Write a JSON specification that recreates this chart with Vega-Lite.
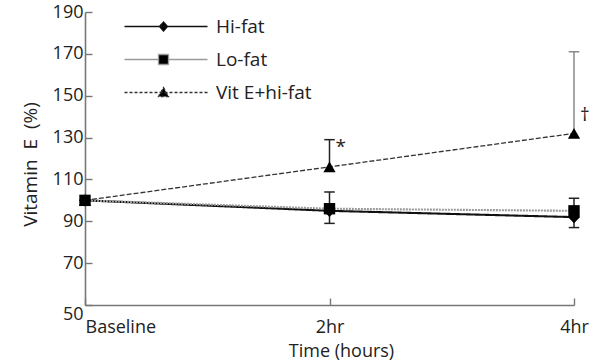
{
  "$schema": "https://vega.github.io/schema/vega-lite/v6.json",
  "width": 489,
  "height": 293,
  "autosize": {"type": "none"},
  "padding": {"left": 85, "top": 12, "right": 27, "bottom": 58},
  "background": "white",
  "config": {
    "view": {"stroke": null},
    "font": "Open Sans",
    "axis": {
      "labelFont": "Open Sans",
      "labelFontSize": 18,
      "labelColor": "#222",
      "titleFont": "Open Sans",
      "titleFontSize": 18,
      "titleFontWeight": "normal",
      "titleColor": "#222",
      "domainColor": "#777",
      "domainWidth": 1.6,
      "tickColor": "#777",
      "tickWidth": 1.4,
      "tickSize": -7,
      "grid": false
    }
  },
  "datasets": {
    "vitE": [
      {"series": "Hi-fat", "time": 0, "value": 100, "err": null},
      {"series": "Hi-fat", "time": 2, "value": 95, "err": 89},
      {"series": "Hi-fat", "time": 4, "value": 92, "err": 87},
      {"series": "Lo-fat", "time": 0, "value": 100, "err": null},
      {"series": "Lo-fat", "time": 2, "value": 96, "err": 104},
      {"series": "Lo-fat", "time": 4, "value": 95, "err": 101},
      {"series": "Vit E+hi-fat", "time": 0, "value": 100, "err": null},
      {"series": "Vit E+hi-fat", "time": 2, "value": 116, "err": 129},
      {"series": "Vit E+hi-fat", "time": 4, "value": 132, "err": 171}
    ],
    "notes": [
      {"time": 2, "value": 129, "note": "*"},
      {"time": 4, "value": 144, "note": "†"}
    ]
  },
  "layer": [
    {
      "data": {"name": "vitE"},
      "mark": {"type": "line"},
      "encoding": {
        "x": {
          "field": "time",
          "type": "quantitative",
          "scale": {"domain": [0, 4], "nice": false, "zero": false},
          "axis": {
            "values": [0, 2, 4],
            "labelExpr": "datum.value == 0 ? 'Baseline' : datum.value + 'hr'",
            "labelAlign": {"expr": "datum.value == 0 ? 'left' : 'center'"},
            "labelPadding": 20,
            "title": "Time (hours)",
            "titlePadding": 6,
            "titleX": 256
          }
        },
        "y": {
          "field": "value",
          "type": "quantitative",
          "scale": {"domain": [50, 190], "nice": false, "zero": false},
          "axis": {
            "values": [50, 70, 90, 110, 130, 150, 170, 190],
            "labelPadding": 9,
            "labelBaseline": {"expr": "datum.value == 50 ? 'top' : 'middle'"},
            "title": "Vitamin\u00a0 E\u00a0 (%)",
            "titleFontSize": 19,
            "titlePadding": 12,
            "titleY": 152
          }
        },
        "color": {
          "field": "series",
          "type": "nominal",
          "scale": {"domain": ["Hi-fat", "Lo-fat", "Vit E+hi-fat"], "range": ["#111", "#9a9a9a", "#333"]},
          "legend": {
            "orient": "none",
            "legendX": 35,
            "legendY": 5,
            "title": null,
            "padding": 0,
            "symbolSize": 100,
            "labelFont": "Open Sans",
            "labelFontSize": 19,
            "labelColor": "#222",
            "labelOffset": 77,
            "rowPadding": 13,
            "encode": {
              "symbols": {
                "update": {
                  "shape": {"signal": "datum.value === 'Hi-fat' ? 'M-1,0L15.6,0M6.8,-0.9L7.6,0L6.8,0.9L6,0Z' : datum.value === 'Lo-fat' ? 'M-1,0L5.8,0M7.8,0L15.6,0M5.8,-1L7.8,-1L7.8,1L5.8,1Z' : 'M-1,0L15.6,0M6.8,-1L7.8,0.8L5.8,0.8Z'"},
                  "fill": {"value": "black"},
                  "fillOpacity": {"value": 1},
                  "opacity": {"value": 1},
                  "stroke": {"signal": "datum.value === 'Lo-fat' ? '#9a9a9a' : '#111'"},
                  "strokeDash": {"signal": "datum.value === 'Vit E+hi-fat' ? [3, 2] : [1, 0]"},
                  "strokeWidth": {"value": 1.3}
                }
              }
            }
          }
        },
        "strokeDash": {
          "condition": [
            {"test": "datum.series == 'Lo-fat'", "value": [2, 1]},
            {"test": "datum.series == 'Vit E+hi-fat'", "value": [5, 2]}
          ],
          "value": [1, 0]
        },
        "strokeWidth": {
          "condition": {"test": "datum.series == 'Vit E+hi-fat'", "value": 1.3},
          "value": 2.1
        }
      }
    },
    {
      "data": {"name": "vitE"},
      "transform": [{"filter": "datum.err != null"}],
      "mark": {"type": "rule", "strokeWidth": 1.5},
      "encoding": {
        "x": {"field": "time", "type": "quantitative"},
        "y": {"field": "value", "type": "quantitative"},
        "y2": {"field": "err"},
        "color": {
          "condition": {"test": "datum.time == 4 && datum.series == 'Vit E+hi-fat'", "value": "#8a8a8a"},
          "value": "#222"
        }
      }
    },
    {
      "data": {"name": "vitE"},
      "transform": [{"filter": "datum.err != null"}],
      "mark": {"type": "point", "shape": "M-1,0L1,0", "size": 110, "filled": false, "strokeWidth": 1.5, "opacity": 1},
      "encoding": {
        "x": {"field": "time", "type": "quantitative"},
        "y": {"field": "err", "type": "quantitative"},
        "color": {
          "condition": {"test": "datum.time == 4 && datum.series == 'Vit E+hi-fat'", "value": "#8a8a8a"},
          "value": "#222"
        }
      }
    },
    {
      "data": {"name": "vitE"},
      "transform": [{"filter": "datum.series == 'Hi-fat'"}],
      "mark": {"type": "point", "shape": "diamond", "filled": true, "size": 150, "opacity": 1, "color": "black"},
      "encoding": {
        "x": {"field": "time", "type": "quantitative"},
        "y": {"field": "value", "type": "quantitative"}
      }
    },
    {
      "data": {"name": "vitE"},
      "transform": [{"filter": "datum.series == 'Lo-fat'"}],
      "mark": {"type": "point", "shape": "square", "filled": true, "size": 130, "opacity": 1, "color": "black"},
      "encoding": {
        "x": {"field": "time", "type": "quantitative"},
        "y": {"field": "value", "type": "quantitative"}
      }
    },
    {
      "data": {"name": "vitE"},
      "transform": [{"filter": "datum.series == 'Vit E+hi-fat'"}],
      "mark": {"type": "point", "shape": "triangle-up", "filled": true, "size": 150, "opacity": 1, "color": "black"},
      "encoding": {
        "x": {"field": "time", "type": "quantitative"},
        "y": {"field": "value", "type": "quantitative"}
      }
    },
    {
      "data": {"name": "notes"},
      "mark": {"type": "text", "align": "left", "baseline": "top", "dx": 6, "dy": -2, "font": "Open Sans", "fontSize": 19, "color": "#222"},
      "encoding": {
        "x": {"field": "time", "type": "quantitative"},
        "y": {"field": "value", "type": "quantitative"},
        "text": {"field": "note"}
      }
    }
  ]
}
